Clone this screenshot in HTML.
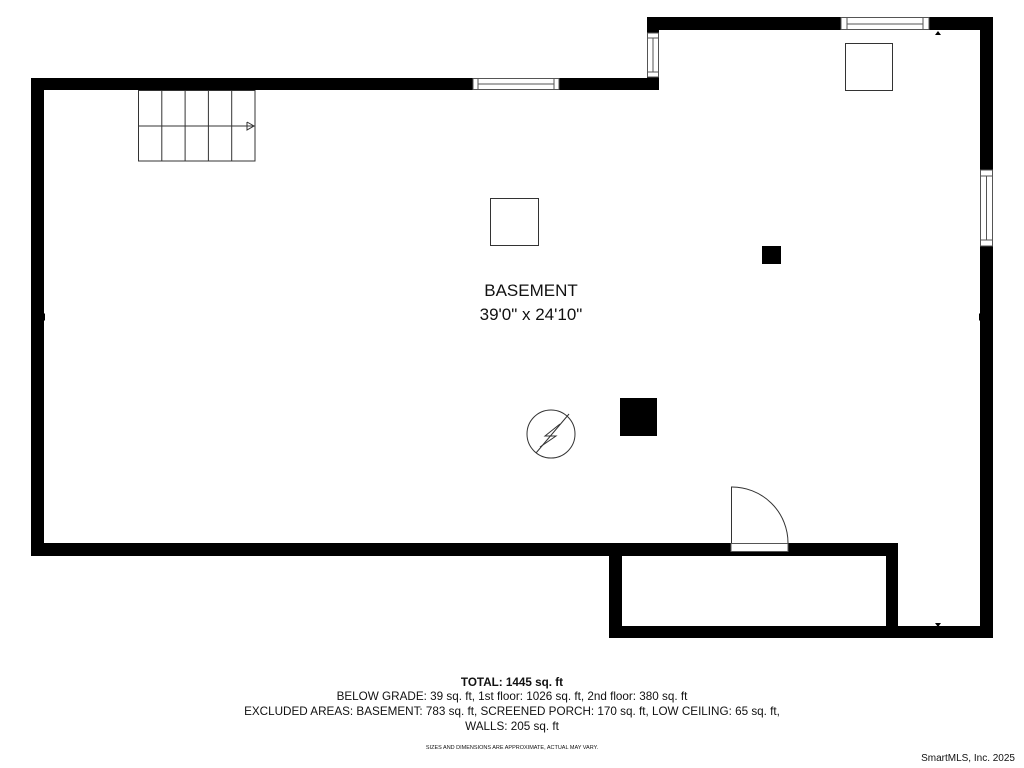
<!DOCTYPE html>
<html><head><meta charset="utf-8"><style>
html,body{margin:0;padding:0;background:#fff;}
svg{display:block;}
text{font-family:"Liberation Sans",sans-serif;fill:#111;}
</style></head><body>
<svg width="1024" height="768" viewBox="0 0 1024 768" xmlns="http://www.w3.org/2000/svg">
<g fill="#000">
<rect x="31" y="78" width="628" height="12"/>
<rect x="31" y="78" width="13" height="478"/>
<rect x="31" y="543" width="867" height="13"/>
<rect x="647" y="17" width="12" height="73"/>
<rect x="647" y="17" width="346" height="13"/>
<rect x="980" y="17" width="13" height="621"/>
<rect x="609" y="543" width="13" height="95"/>
<rect x="609" y="626" width="384" height="12"/>
<rect x="886" y="543" width="12" height="95"/>
</g>
<g fill="#fff" stroke="#555" stroke-width="1">
<rect x="473" y="78.5" width="86" height="11"/>
<line x1="478" y1="78.5" x2="478" y2="89.5"/><line x1="554" y1="78.5" x2="554" y2="89.5"/>
<line x1="478" y1="84" x2="554" y2="84"/>
<rect x="841" y="17.5" width="88" height="12"/>
<line x1="847" y1="17.5" x2="847" y2="29.5"/><line x1="923" y1="17.5" x2="923" y2="29.5"/>
<line x1="847" y1="24" x2="923" y2="24"/>
<rect x="647.5" y="33" width="11" height="44"/>
<line x1="647.5" y1="38" x2="658.5" y2="38"/><line x1="647.5" y1="72" x2="658.5" y2="72"/>
<line x1="653" y1="38" x2="653" y2="72"/>
<rect x="980.5" y="170" width="12" height="76"/>
<line x1="980.5" y1="176" x2="992.5" y2="176"/><line x1="980.5" y1="240" x2="992.5" y2="240"/>
<line x1="986.5" y1="176" x2="986.5" y2="240"/>
<rect x="731" y="543.5" width="57" height="8"/>
</g>
<g fill="none" stroke="#333" stroke-width="1">
<rect x="138.5" y="90.5" width="116.5" height="70.5"/>
<line x1="161.8" y1="90" x2="161.8" y2="161"/>
<line x1="185.1" y1="90" x2="185.1" y2="161"/>
<line x1="208.4" y1="90" x2="208.4" y2="161"/>
<line x1="231.7" y1="90" x2="231.7" y2="161"/>
<line x1="138" y1="126" x2="255" y2="126"/>
<polyline points="247,122 254,126 247,130 247,122"/>
<rect x="490.5" y="198.5" width="48" height="47"/>
<rect x="845.5" y="43.5" width="47" height="47"/>
<circle cx="551" cy="434" r="24"/>
<line x1="536" y1="453" x2="569" y2="414"/>
<polyline points="560,424 545,436 556,436 540,447"/>
<path d="M731.5 543 L731.5 487 A56 56 0 0 1 788 543"/>
</g>
<g fill="#000">
<rect x="762" y="246" width="19" height="18"/>
<rect x="620" y="398" width="37" height="38"/>
<polygon points="41,317 45,313 45,321"/>
<polygon points="983,317 979,313 979,321"/>
<polygon points="938,31 935,35 941,35"/>
<polygon points="938,627 935,623 941,623"/>
</g>
<text x="531" y="296" font-size="17" text-anchor="middle">BASEMENT</text>
<text x="531" y="320" font-size="17" text-anchor="middle">39'0" x 24'10"</text>
<g text-anchor="middle" font-size="11.7">
<text x="512" y="686" font-weight="bold">TOTAL: 1445 sq. ft</text>
<text x="512" y="700">BELOW GRADE: 39 sq. ft, 1st floor: 1026 sq. ft, 2nd floor: 380 sq. ft</text>
<text x="512" y="715">EXCLUDED AREAS: BASEMENT: 783 sq. ft, SCREENED PORCH: 170 sq. ft, LOW CEILING: 65 sq. ft,</text>
<text x="512" y="730">WALLS: 205 sq. ft</text>
<text x="512" y="749" font-size="5.5" fill="#444">SIZES AND DIMENSIONS ARE APPROXIMATE, ACTUAL MAY VARY.</text>
</g>
<text x="1015" y="761" font-size="10" text-anchor="end" fill="#888">SmartMLS, Inc.  2025</text>
</svg>
</body></html>
